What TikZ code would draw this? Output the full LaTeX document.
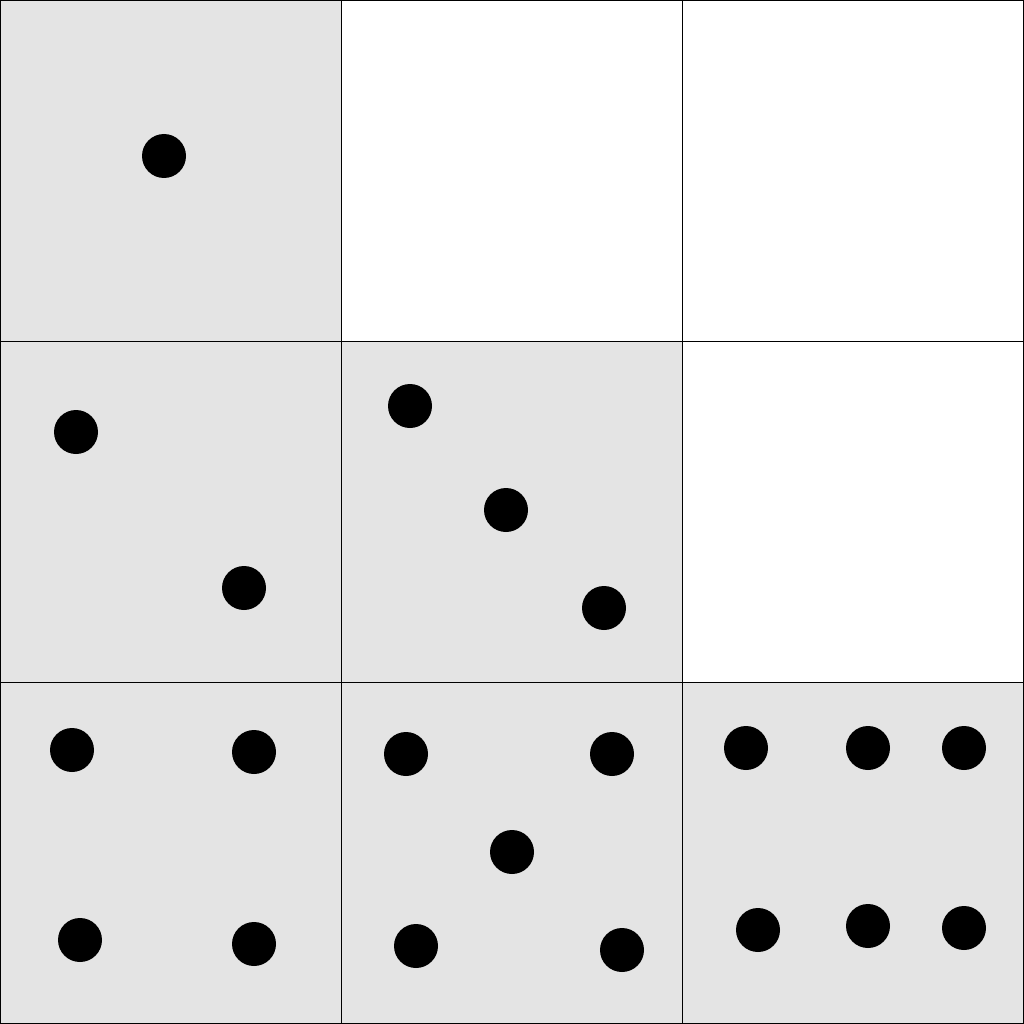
\documentclass[tikz,border=0pt]{standalone}
\definecolor{cellgrey}{HTML}{E4E4E4}
\begin{document}
\begin{tikzpicture}[x=1pt,y=-1pt,
  cell/.style={draw=black,line width=1pt},
  greycell/.style={cell,fill=cellgrey},
  whitecell/.style={cell,fill=white},
  dot/.style={circle,fill=black,inner sep=0pt,minimum size=44pt}]
\useasboundingbox (0,0) rectangle (1024,1024);
% cells
\path[greycell] (0.5,0.5) rectangle (341,341);
\path[whitecell] (341,0.5) rectangle (682,341);
\path[whitecell] (682,0.5) rectangle (1023.5,341);
\path[greycell] (0.5,341) rectangle (341,682);
\path[greycell] (341,341) rectangle (682,682);
\path[whitecell] (682,341) rectangle (1023.5,682);
\path[greycell] (0.5,682) rectangle (341,1023.5);
\path[greycell] (341,682) rectangle (682,1023.5);
\path[greycell] (682,682) rectangle (1023.5,1023.5);
% dots
\node[dot] (a1) at (164,156) {};
\node[dot] (b1) at (76,432) {};
\node[dot] (b2) at (244,588) {};
\node[dot] (c1) at (410,406) {};
\node[dot] (c2) at (506,510) {};
\node[dot] (c3) at (604,608) {};
\node[dot] (d1) at (72,750) {};
\node[dot] (d2) at (254,752) {};
\node[dot] (d3) at (80,940) {};
\node[dot] (d4) at (254,944) {};
\node[dot] (e1) at (406,754) {};
\node[dot] (e2) at (612,754) {};
\node[dot] (e3) at (512,852) {};
\node[dot] (e4) at (416,946) {};
\node[dot] (e5) at (622,950) {};
\node[dot] (f1) at (746,748) {};
\node[dot] (f2) at (868,748) {};
\node[dot] (f3) at (964,748) {};
\node[dot] (f4) at (758,930) {};
\node[dot] (f5) at (868,926) {};
\node[dot] (f6) at (964,928) {};
\end{tikzpicture}
\end{document}
